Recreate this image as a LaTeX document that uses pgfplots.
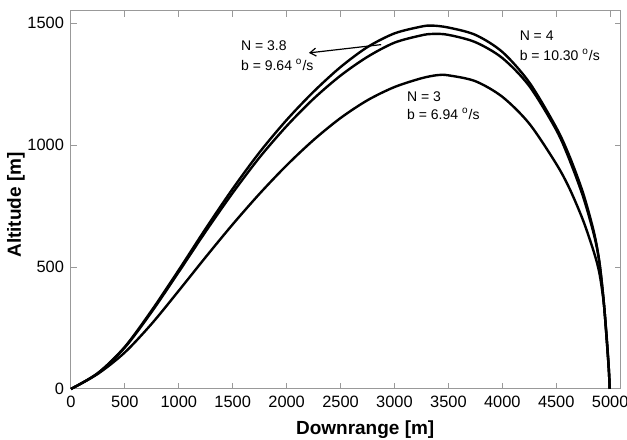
\documentclass[border=0pt]{standalone}
\usepackage{pgfplots}
\pgfplotsset{compat=1.18}
\usetikzlibrary{arrows.meta}
\usepackage{fontspec}
\setmainfont{Liberation Sans}

\begin{document}
\begin{tikzpicture}
  \begin{axis}[
      scale only axis,
      width=275pt,
      height=189pt,
      xmin=0, xmax=5100,
      ymin=0, ymax=1550,
      xtick={0,500,...,5000},
      ytick={0,500,1000,1500},
      tick align=inside,
      major tick length=3pt,
      axis line style={gray!80, line width=0.5pt},
      every tick/.style={gray!80, line width=0.5pt},
      scaled ticks=false,
      /pgf/number format/assume math mode=true,
      /pgf/number format/set thousands separator={},
      tick label style={font=\fontsize{8.2}{9.5}\selectfont},
      xlabel={\textbf{Downrange [m]}},
      ylabel={\textbf{Altitude [m]}},
      every axis x label/.style={at={(axis description cs:0.535,-0.108)},anchor=center,font=\fontsize{9.5}{11}\selectfont},
      every axis y label/.style={at={(axis description cs:-0.1,0.487)},rotate=90,anchor=center,font=\fontsize{9.5}{11}\selectfont},
      clip=false,
    ]
    % N = 4
    \addplot[black, line width=1.2pt, smooth] coordinates {
      (0,0) (250,65) (500,173) (750,323) (1000,488) (1250,658) (1500,821)
      (1750,971) (2000,1103) (2250,1219) (2500,1320) (2750,1402) (3000,1458)
      (3250,1486) (3350,1490) (3500,1482) (3750,1452) (4000,1382) (4250,1257)
      (4500,1072) (4625,952) (4750,802) (4850,642) (4900,520) (4940,360)
      (4970,190) (4988,75) (4996,0)
    };
    % N = 3.8
    \addplot[black, line width=1.2pt, smooth] coordinates {
      (0,0) (250,65) (500,170) (750,317) (1000,480) (1250,646) (1500,804)
      (1750,950) (2000,1078) (2250,1190) (2500,1285) (2750,1362) (3000,1420)
      (3250,1450) (3360,1456) (3500,1452) (3750,1422) (4000,1357) (4250,1242)
      (4500,1062) (4625,937) (4750,787) (4850,632) (4900,520) (4940,360)
      (4970,190) (4988,75) (4996,0)
    };
    % N = 3
    \addplot[black, line width=1.2pt, smooth] coordinates {
      (0,0) (250,62) (500,150) (750,268) (1000,403) (1250,541) (1500,675)
      (1750,801) (2000,917) (2250,1021) (2500,1111) (2750,1184) (3000,1238)
      (3250,1274) (3400,1287) (3500,1286) (3750,1262) (4000,1198) (4250,1088)
      (4500,923) (4625,820) (4750,690) (4850,560) (4900,475) (4940,355)
      (4970,200) (4988,80) (4996,0)
    };
    \node[anchor=west, font=\fontsize{7}{8}\selectfont, inner sep=0pt] at (axis cs:1574,1406) {N = 3.8};
    \node[anchor=west, font=\fontsize{7}{8}\selectfont, inner sep=0pt] at (axis cs:1574,1327) {b = 9.64 \textsuperscript{o}/s};
    \node[anchor=west, font=\fontsize{7}{8}\selectfont, inner sep=0pt] at (axis cs:4158,1450) {N = 4};
    \node[anchor=west, font=\fontsize{7}{8}\selectfont, inner sep=0pt] at (axis cs:4158,1368) {b = 10.30 \textsuperscript{o}/s};
    \node[anchor=west, font=\fontsize{7}{8}\selectfont, inner sep=0pt] at (axis cs:3114,1197) {N = 3};
    \node[anchor=west, font=\fontsize{7}{8}\selectfont, inner sep=0pt] at (axis cs:3114,1128) {b = 6.94 \textsuperscript{o}/s};
    \draw[-{Straight Barb[length=3pt,width=4pt]}, black, line width=0.6pt] (axis cs:2877,1412) -- (axis cs:2207,1378);
    \coordinate (bbl) at (axis description cs:-0.129,-0.135);
    \coordinate (btr) at (axis description cs:1.011,1.029);
  \end{axis}
  \pgfresetboundingbox
  \path[use as bounding box] (bbl) rectangle (btr);
\end{tikzpicture}
\end{document}
